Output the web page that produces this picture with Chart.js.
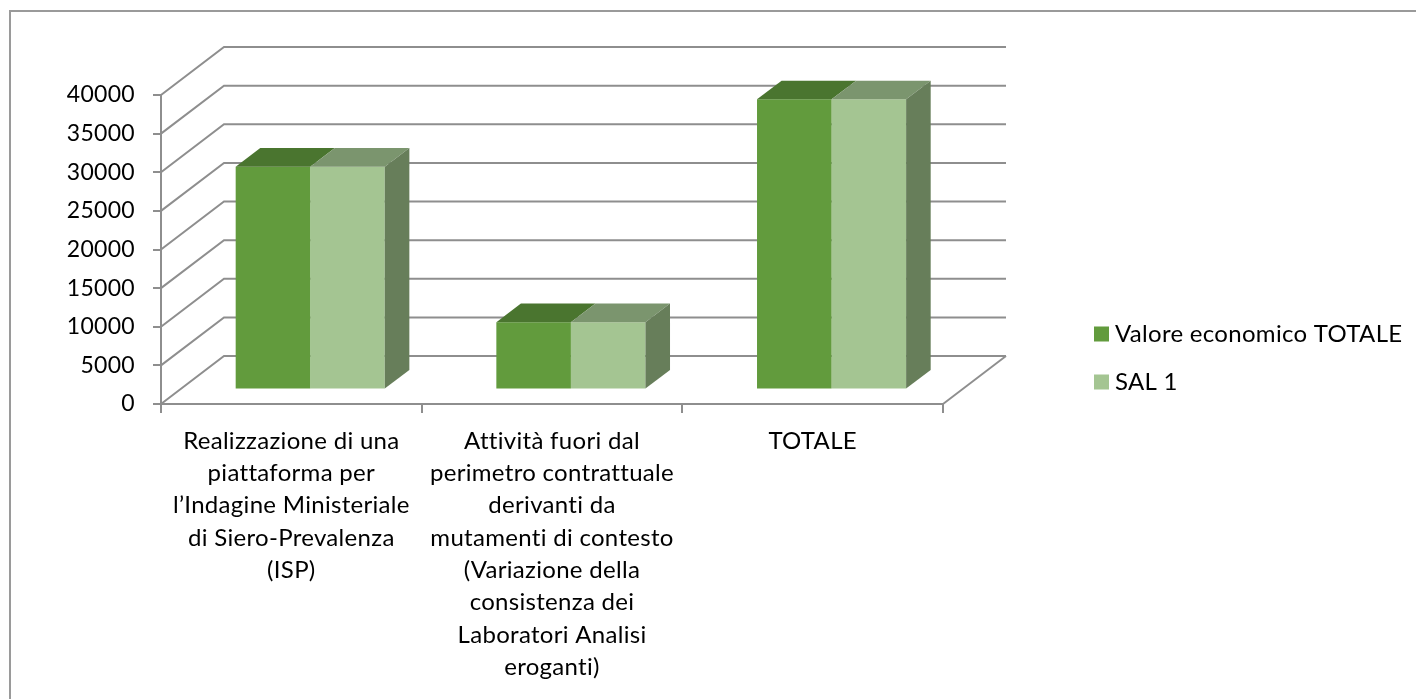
<!DOCTYPE html>
<html>
<head>
<meta charset="utf-8">
<script src="https://cdn.jsdelivr.net/npm/chart.js@4.4.1/dist/chart.umd.min.js"></script>
<style>
  html, body { margin: 0; padding: 0; background: #fff; }
  #wrap { width: 1416px; height: 699px; }
</style>
</head>
<body>
<div id="wrap"><canvas id="chart" width="1416" height="699"></canvas></div>
<script>
// data
const categories = [
    ["Realizzazione di una", "piattaforma per", "l\u2019Indagine Ministeriale", "di Siero-Prevalenza", "(ISP)"],
    ["Attività fuori dal", "perimetro contrattuale", "derivanti da", "mutamenti di contesto", "(Variazione della", "consistenza dei", "Laboratori Analisi", "eroganti)"],
    ["TOTALE"],
];
const seriesNames = ["Valore economico TOTALE", "SAL 1"];
const valoreTotale = [28840, 8730, 37570];
const sal1 = [28840, 8730, 37570];
const yMax = 40000;
const yStep = 5000;

const frontColors = ["#629b3d", "#a4c592"];
const topColors = ["#4a752f", "#7b956e"];
const sideColor = "#677e5a";
const lineColor = "#8e8e8e";

// oblique depth of the whole box, and where the bars sit in it
const depth = { dx: 63, dy: -48 };
const barFront = 0.3;
const barDepth = 0.39;

const box3d = {
    id: "box3d",
    beforeDraw(chart) {
        // spacing also stops Lato from drawing its ligatures
        chart.ctx.letterSpacing = "0.3px";
    },
    beforeDatasetsDraw(chart) {
        const ctx = chart.ctx;
        const y = chart.scales.y;
        const a = chart.chartArea;
        ctx.save();
        ctx.strokeStyle = lineColor;
        ctx.lineWidth = 2;
        y.ticks.forEach((t) => {
            const py = y.getPixelForValue(t.value);
            ctx.beginPath();
            ctx.moveTo(a.left, py);
            ctx.lineTo(a.left + depth.dx, py + depth.dy);
            ctx.lineTo(a.right + depth.dx, py + depth.dy);
            ctx.stroke();
        });
        // right edge of the floor
        ctx.beginPath();
        ctx.moveTo(a.right, a.bottom);
        ctx.lineTo(a.right + depth.dx, a.bottom + depth.dy);
        ctx.stroke();
        ctx.restore();

        // move the bars back to their plane inside the box
        ctx.save();
        ctx.translate(depth.dx * barFront, depth.dy * barFront);
    },
    afterDatasetsDraw(chart) {
        const ctx = chart.ctx;
        const bdx = depth.dx * barDepth;
        const bdy = depth.dy * barDepth;
        const metas = chart.data.datasets.map((d, i) => chart.getDatasetMeta(i));
        const n = chart.data.labels.length;
        for (let i = 0; i < n; i++) {
            metas.forEach((meta, k) => {
                const el = meta.data[i];
                const l = el.x - el.width / 2;
                const r = el.x + el.width / 2;
                ctx.fillStyle = topColors[k];
                ctx.beginPath();
                ctx.moveTo(l, el.y);
                ctx.lineTo(r, el.y);
                ctx.lineTo(r + bdx, el.y + bdy);
                ctx.lineTo(l + bdx, el.y + bdy);
                ctx.closePath();
                ctx.fill();
                if (k === metas.length - 1) {
                    ctx.fillStyle = sideColor;
                    ctx.beginPath();
                    ctx.moveTo(r, el.y);
                    ctx.lineTo(r + bdx, el.y + bdy);
                    ctx.lineTo(r + bdx, el.base + bdy);
                    ctx.lineTo(r, el.base);
                    ctx.closePath();
                    ctx.fill();
                }
            });
        }
        ctx.restore();
    },
};

const sideLegend = {
    id: "sideLegend",
    afterDraw(chart) {
        const ctx = chart.ctx;
        ctx.save();
        // outer frame of the chart
        ctx.strokeStyle = "#9a9a9a";
        ctx.lineWidth = 2;
        ctx.strokeRect(10, 11, 1500, 800);
        ctx.font = "24px Lato";
        ctx.textBaseline = "middle";
        ctx.textAlign = "left";
        chart.data.datasets.forEach((ds, i) => {
            const cy = 334 + i * 48;
            ctx.fillStyle = ds.backgroundColor;
            ctx.fillRect(1094, cy - 7.5, 15, 15);
            ctx.fillStyle = "#000";
            ctx.fillText(ds.label, 1115, cy);
        });
        ctx.restore();
    },
};

Chart.defaults.font.family = "Lato";
Chart.defaults.font.size = 24;
Chart.defaults.color = "#000";

new Chart(document.getElementById("chart"), {
    type: "bar",
    data: {
        labels: categories,
        datasets: [
            {
                label: seriesNames[0],
                data: valoreTotale,
                backgroundColor: frontColors[0],
                borderWidth: 0,
            },
            {
                label: seriesNames[1],
                data: sal1,
                backgroundColor: frontColors[1],
                borderWidth: 0,
            },
        ],
    },
    options: {
        responsive: false,
        devicePixelRatio: 1,
        animation: false,
        clip: false,
        categoryPercentage: 0.572,
        barPercentage: 1,
        layout: { padding: { left: 0, top: 95, right: 473, bottom: 0 } },
        plugins: {
            legend: { display: false },
            tooltip: { enabled: false },
        },
        scales: {
            x: {
                afterFit: (s) => { s.height = 295; },
                grid: {
                    offset: true,
                    drawOnChartArea: false,
                    tickLength: 9,
                    color: lineColor,
                    lineWidth: 2,
                },
                border: { color: lineColor, width: 2 },
                ticks: {
                    maxRotation: 0,
                    autoSkip: false,
                    padding: 12,
                    font: { size: 24, lineHeight: "32.3px" },
                },
            },
            y: {
                min: 0,
                max: yMax,
                afterFit: (s) => { s.width = 161; },
                grid: {
                    drawOnChartArea: false,
                    tickLength: 8,
                    color: lineColor,
                    lineWidth: 2,
                },
                border: { color: lineColor, width: 2 },
                ticks: {
                    stepSize: yStep,
                    padding: 18,
                    font: { size: 23 },
                    callback: (v) => String(v),
                },
            },
        },
    },
    plugins: [box3d, sideLegend],
});
</script>
</body>
</html>
